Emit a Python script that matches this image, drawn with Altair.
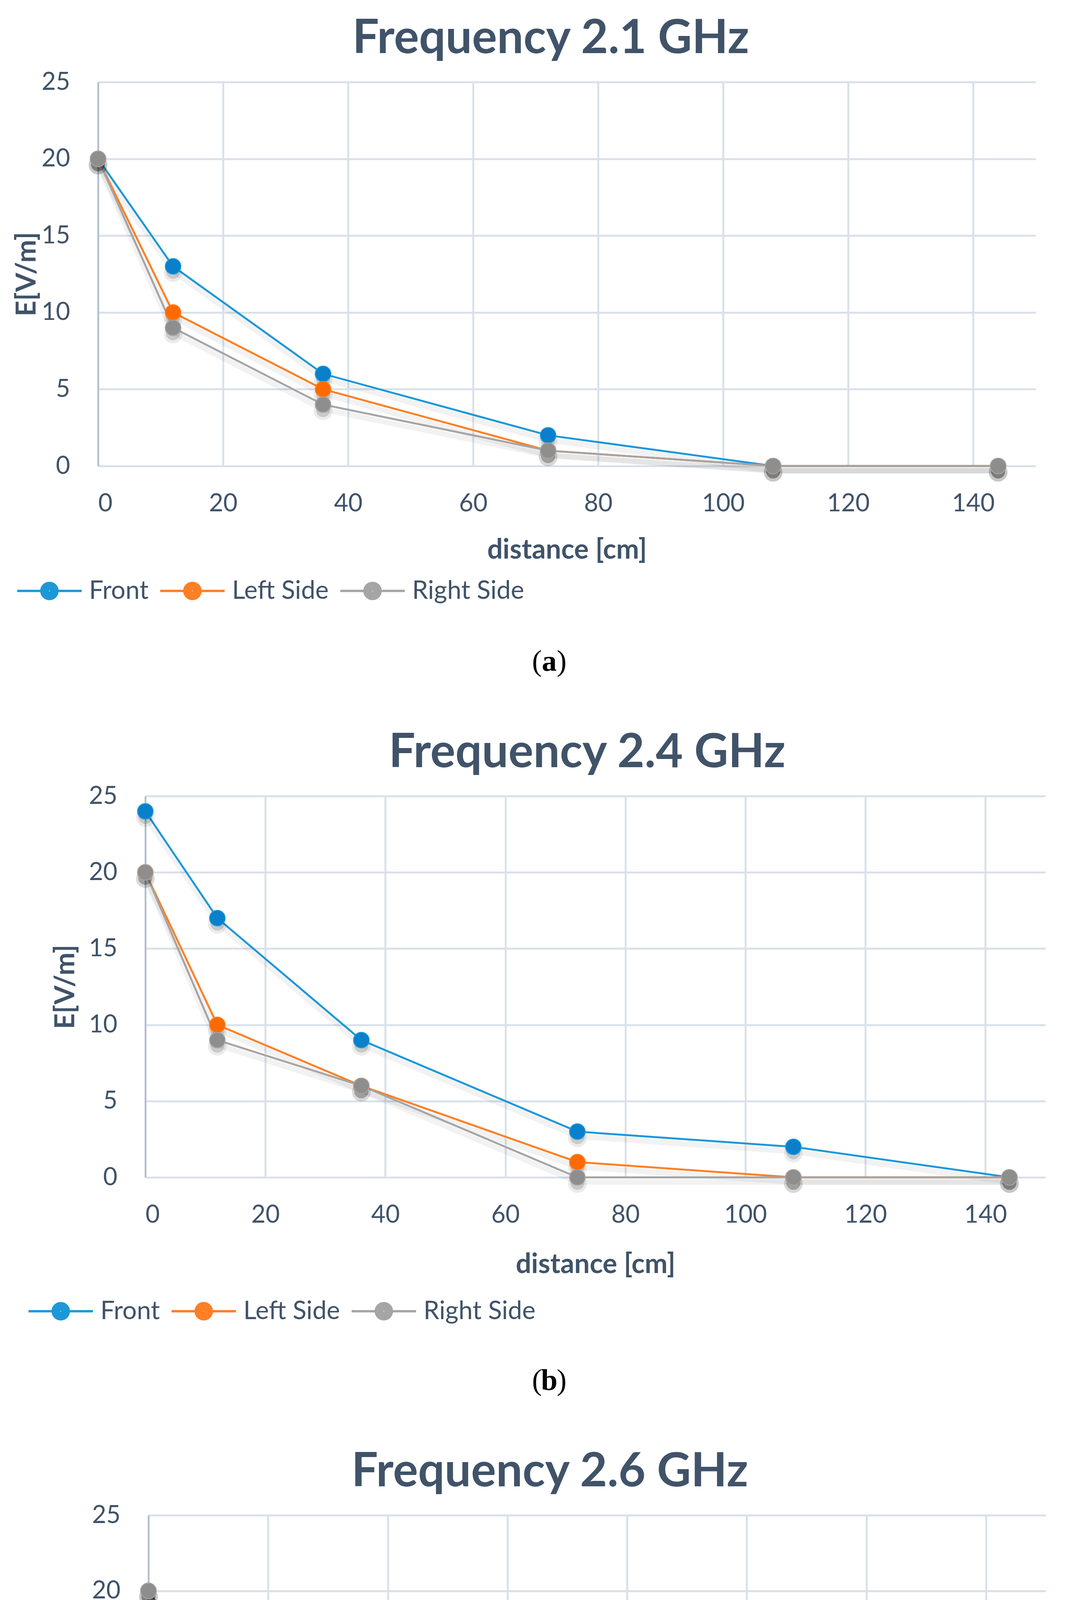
import altair as alt
import pandas as pd

# ---------------- data ----------------
distance = [0, 12, 36, 72, 108, 144]
series_names = ["Front", "Left Side", "Right Side"]

a_front = [20, 13, 6, 2, 0, 0]
a_left = [20, 10, 5, 1, 0, 0]
a_right = [20, 9, 4, 1, 0, 0]

b_front = [24, 17, 9, 3, 2, 0]
b_left = [20, 10, 6, 1, 0, 0]
b_right = [20, 9, 6, 0, 0, 0]

c_front = [20, 13, 9, 4, 2, 0]
c_left = [20, 10, 5, 1, 0, 0]
c_right = [20, 8, 6, 0, 0, 0]

titles = ["Frequency 2.1 GHz", "Frequency 2.4 GHz", "Frequency 2.6 GHz"]
captions = ["a", "b", "c"]
x_ticks = [0, 20, 40, 60, 80, 100, 120, 140]
y_ticks = [0, 5, 10, 15, 20, 25]

line_colors = ["#1C98D9", "#FF7F24", "#A5A5A5"]
inner_colors = ["#0A7FCA", "#FF6A00", "#8E8E8E"]

TEXT = "#405369"
FONT = "Lato"

# legend symbol: horizontal line with a (stroke-filled) disc in the middle
def _circ(r):
    return f"M{-r},0A{r},{r},0,1,1,{r},0A{r},{r},0,1,1,{-r},0"

R = 0.25
SYMBOL = f"M-1,0L{-R},0M{R},0L1,0" + "".join(_circ(r) for r in [0.25, 0.2, 0.15, 0.1, 0.05, 0.01])

# per-panel layout (pixels)
#   sw: width of the blank spacer to the left of the panel (sets the panel's offset)
#   lx/ly: legend box position relative to the plot origin
layouts = [
    dict(w=2400, h=983, tdx=-41, xtp=53, ytp=0, sw=8, lx=-230, ly=1197, lp=20, cx=1155, cy=1484),
    dict(w=2304, h=976, tdx=-21, xtp=61, ytp=22, sw=37, lx=-322, ly=1213, lp=20, cx=1034, cy=1497),
    dict(w=2297, h=968, tdx=-121, xtp=46, ytp=20, sw=33, lx=-334, ly=1194, lp=20, cx=1027, cy=1481),
]


def make_df(front, left, right):
    rows = []
    for name, vals in zip(series_names, [front, left, right]):
        for d, v in zip(distance, vals):
            rows.append({"distance": d, "E": v, "series": name})
    return pd.DataFrame(rows)


def panel(df, title, cap, L):
    x = alt.X("distance:Q",
              scale=alt.Scale(domain=[0, 150], nice=False),
              axis=alt.Axis(values=x_ticks, title="distance [cm]", domain=False,
                            labelPadding=65, titlePadding=L["xtp"]))
    y = alt.Y("E:Q",
              scale=alt.Scale(domain=[0, 25], nice=False),
              axis=alt.Axis(values=y_ticks, title="E[V/m]", domain=True,
                            domainColor="#AEBDCE", domainWidth=4,
                            labelPadding=72, titlePadding=L["ytp"]))
    leg = alt.Legend(title=None, orient="none", direction="horizontal",
                     legendX=L["lx"], legendY=L["ly"], padding=L["lp"],
                     symbolType=SYMBOL, symbolSize=27225, symbolStrokeWidth=6,
                     symbolOpacity=1, labelFont=FONT, labelFontSize=65,
                     labelColor=TEXT, labelLimit=1000, labelOffset=16,
                     columnPadding=17)
    color = alt.Color("series:N",
                      scale=alt.Scale(domain=series_names, range=line_colors),
                      legend=leg)

    base = alt.Chart(df)
    line_shadow = base.mark_line(strokeWidth=14, color="#000000", opacity=0.05,
                                 yOffset=12).encode(x=x, y=y, detail="series:N")
    lines = base.mark_line(strokeWidth=5).encode(x=x, y=y, color=color)
    pshadow1 = base.mark_circle(color="#000000", opacity=0.08, size=2300,
                                yOffset=16).encode(x=x, y=y)
    pshadow2 = base.mark_circle(color="#000000", opacity=0.14, size=1300,
                                yOffset=14).encode(x=x, y=y)
    rings = base.mark_point(filled=False, size=1385, strokeWidth=5, opacity=1,
                            shape="circle").encode(x=x, y=y, color=color)
    inners = [
        base.transform_filter(alt.datum.series == name).mark_circle(
            size=1385, opacity=1, color=col).encode(x=x, y=y)
        for name, col in zip(series_names, inner_colors)
    ]

    cdf = pd.DataFrame({"t": [cap]})
    cbase = alt.Chart(cdf)
    c_open = cbase.mark_text(text="(", font="Liberation Serif", fontSize=76,
                             align="right", baseline="middle", color="#000000").encode(
        x=alt.value(L["cx"] - 19), y=alt.value(L["cy"]))
    c_mid = cbase.mark_text(font="Liberation Serif", fontSize=76, fontWeight="bold",
                            align="center", baseline="middle", color="#000000").encode(
        text="t:N", x=alt.value(L["cx"]), y=alt.value(L["cy"]))
    c_close = cbase.mark_text(text=")", font="Liberation Serif", fontSize=76,
                              align="left", baseline="middle", color="#000000").encode(
        x=alt.value(L["cx"] + 19), y=alt.value(L["cy"]))

    layered = alt.layer(line_shadow, lines, pshadow1, pshadow2, rings, *inners,
                        c_open, c_mid, c_close).properties(
        width=L["w"], height=L["h"],
        title=alt.TitleParams(text=title, dx=L["tdx"], offset=18, frame="group",
                              anchor="middle"))

    # blank spacer on the left: shifts this panel horizontally on its own
    spacer = alt.Chart(pd.DataFrame({"s": [0]})).mark_point(opacity=0).properties(
        width=L["sw"], height=10)
    return alt.hconcat(spacer, layered, spacing=0).resolve_scale(color="independent")


dfs = [make_df(a_front, a_left, a_right),
       make_df(b_front, b_left, b_right),
       make_df(c_front, c_left, c_right)]

panels = [panel(d, t, c, L) for d, t, c, L in zip(dfs, titles, captions, layouts)]

chart = alt.vconcat(*panels, spacing=136).resolve_scale(
    color="independent"
).properties(
    padding={"left": 5, "top": 32, "right": 5, "bottom": 5},
    background="white",
).configure_view(stroke=None).configure_axis(
    grid=True, gridColor="#DAE1EA", gridWidth=5, ticks=False,
    labelFont=FONT, labelFontSize=63, labelColor=TEXT,
    titleFont=FONT, titleFontSize=70, titleFontWeight="bold", titleColor=TEXT,
).configure_title(
    font=FONT, fontSize=120, fontWeight="bold", color=TEXT
)

chart.save("out.html", embed_options={"renderer": "svg", "actions": False})
